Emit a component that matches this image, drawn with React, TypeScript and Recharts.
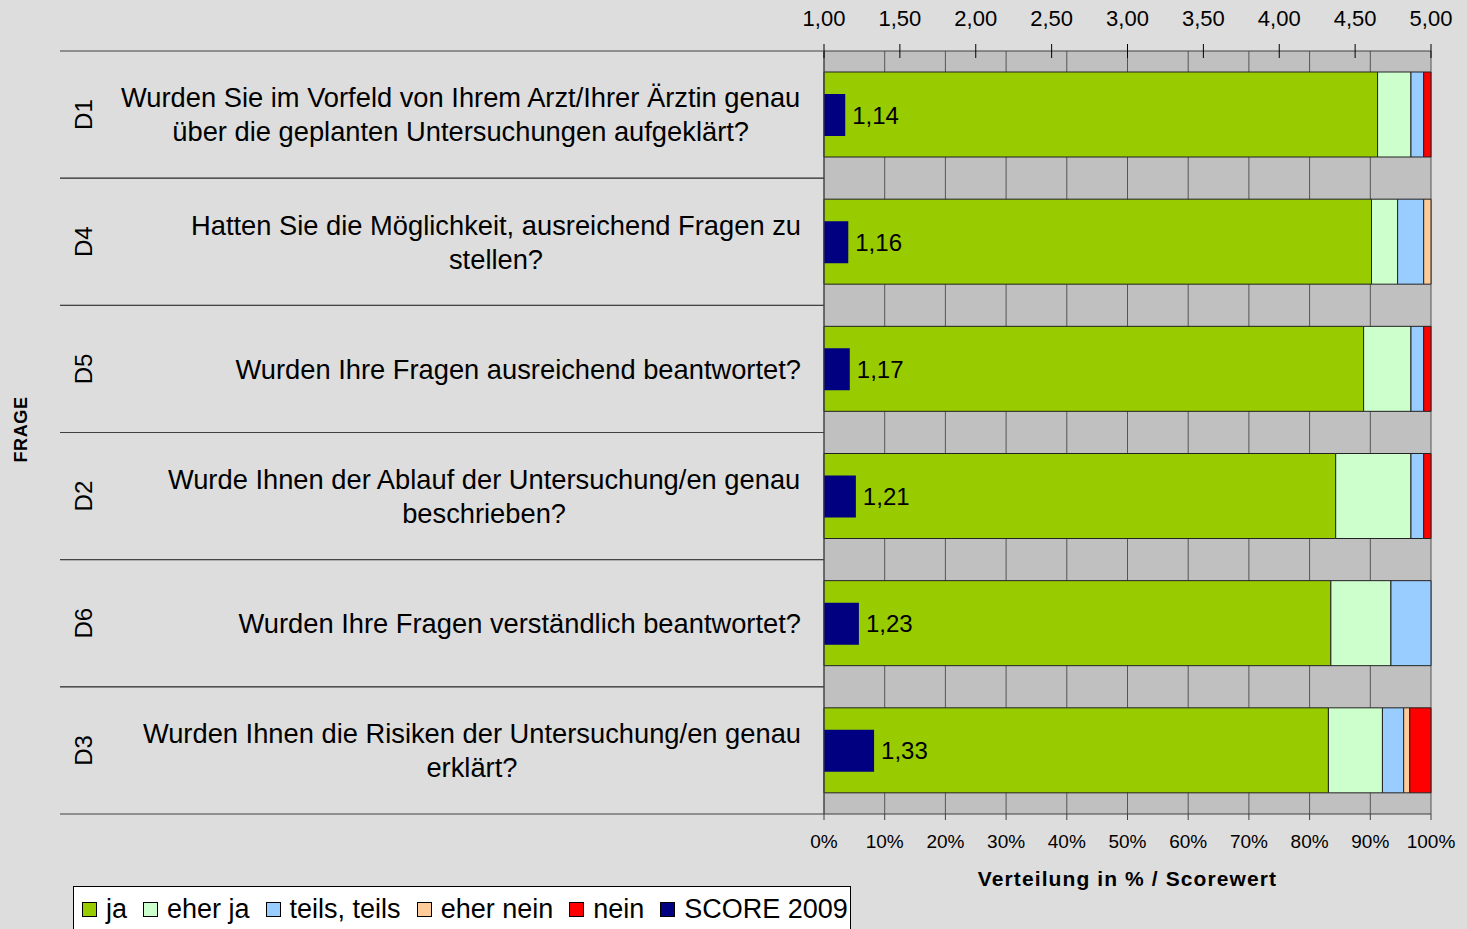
import React from "react";
import { BarChart, Bar, XAxis, YAxis, CartesianGrid, Legend, LabelList } from "recharts";

const ids = ["D1", "D4", "D5", "D2", "D6", "D3"];
const questions = [
    ["Wurden Sie im Vorfeld von Ihrem Arzt/Ihrer Ärztin genau", "über die geplanten Untersuchungen aufgeklärt?"],
    ["Hatten Sie die Möglichkeit, ausreichend Fragen zu", "stellen?"],
    ["Wurden Ihre Fragen ausreichend beantwortet?"],
    ["Wurde Ihnen der Ablauf der Untersuchung/en genau", "beschrieben?"],
    ["Wurden Ihre Fragen verständlich beantwortet?"],
    ["Wurden Ihnen die Risiken der Untersuchung/en genau", "erklärt?"],
];
const ja = [91.2, 90.2, 88.9, 84.3, 83.5, 83.1];
const eherJa = [5.5, 4.3, 7.8, 12.4, 9.9, 8.9];
const teils = [2.1, 4.3, 2.1, 2.1, 6.6, 3.5];
const eherNein = [0, 1.2, 0, 0, 0, 1.0];
const nein = [1.2, 0, 1.2, 1.2, 0, 3.5];
const score = [1.14, 1.16, 1.17, 1.21, 1.23, 1.33];
const pctTicks = [0, 10, 20, 30, 40, 50, 60, 70, 80, 90, 100];
const scoreTicks = [1, 1.5, 2, 2.5, 3, 3.5, 4, 4.5, 5];
const legendOrder = ["ja", "eher ja", "teils, teils", "eher nein", "nein", "SCORE 2009"];

const data = ids.map((id, i) => ({
    id,
    ja: ja[i],
    eherJa: eherJa[i],
    teils: teils[i],
    eherNein: eherNein[i],
    nein: nein[i],
    score: score[i],
}));

const W = 1467;
const H = 929;
const TOP = 51;
const BOTTOM = 115;
const LEFT = 824;
const RIGHT = 36;
const BAND = (H - TOP - BOTTOM) / ids.length;
const FONT = "'Liberation Sans', Arial, sans-serif";
const LINE = "#404040";
const QFONT = 27.3;

const fmtScore = (v: number) => v.toFixed(2).replace(".", ",");

let ctx: CanvasRenderingContext2D | null = null;
const measure = (s: string, size: number) => {
    if (!ctx) ctx = document.createElement("canvas").getContext("2d");
    if (!ctx) return s.length * size * 0.5;
    ctx.font = `${size}px 'Liberation Sans'`;
    return ctx.measureText(s).width;
};

const QuestionTick = (props: any) => {
    const { y, payload } = props;
    const i = ids.indexOf(payload.value);
    const lines = questions[i] || [];
    const lh = 34;
    const w = Math.max(...lines.map((l) => measure(l, QFONT)));
    const cx = 801 - w / 2;
    const y0 = y - ((lines.length - 1) * lh) / 2;
    return (
        <g>
            <line x1={60} x2={LEFT} y1={y - BAND / 2} y2={y - BAND / 2} stroke={LINE} />
            <line x1={60} x2={LEFT} y1={y + BAND / 2} y2={y + BAND / 2} stroke={LINE} />
            <text transform={`translate(92,${y}) rotate(-90)`} textAnchor="middle" fontSize={24} fill="#000">
                {payload.value}
            </text>
            {lines.map((l, k) => (
                <text key={k} x={cx} y={y0 + k * lh} dy="0.36em" textAnchor="middle" fontSize={QFONT} fill="#000">
                    {l}
                </text>
            ))}
        </g>
    );
};

const ScoreTick = (props: any) => {
    const { x, y, payload } = props;
    return (
        <g>
            <line x1={x} x2={x} y1={y + 18} y2={y + 32} stroke="#000" />
            <text x={x} y={y} textAnchor="middle" fontSize={22} fill="#000">
                {fmtScore(payload.value)}
            </text>
        </g>
    );
};

const LegendBox = (props: any) => {
    const items = [...(props.payload || [])].sort(
        (a: any, b: any) => legendOrder.indexOf(a.value) - legendOrder.indexOf(b.value)
    );
    return (
        <div
            style={{
                display: "inline-flex",
                alignItems: "center",
                height: 46,
                border: "1px solid #000",
                background: "#fff",
                padding: "0 2px 0 8px",
                fontSize: 27,
                fontFamily: FONT,
                whiteSpace: "nowrap",
                boxSizing: "border-box",
            }}
        >
            {items.map((it: any, k: number) => (
                <span key={k} style={{ display: "inline-flex", alignItems: "center", marginRight: k < items.length - 1 ? 16 : 0 }}>
                    <span
                        style={{
                            display: "inline-block",
                            width: 13,
                            height: 13,
                            border: "1px solid #000",
                            background: it.color,
                            marginRight: 9,
                        }}
                    />
                    <span style={{ color: "#000" }}>{it.value}</span>
                </span>
            ))}
        </div>
    );
};

const App: React.FC = () => {
    return (
        <div
            style={{
                position: "absolute",
                left: 0,
                top: 0,
                width: W,
                height: H,
                overflow: "hidden",
                background: "#dddddd",
                fontFamily: FONT,
            }}
        >
            <BarChart
                width={W}
                height={H}
                data={data}
                layout="vertical"
                margin={{ top: 0, right: RIGHT, bottom: 0, left: 0 }}
                style={{ fontFamily: FONT }}
            >
                <CartesianGrid
                    horizontal={false}
                    xAxisId="pct"
                    yAxisId="main"
                    fill="#c0c0c0"
                    fillOpacity={1}
                    stroke="#555"
                />
                <XAxis
                    xAxisId="pct"
                    type="number"
                    domain={[0, 100]}
                    ticks={pctTicks}
                    tickFormatter={(v) => `${v}%`}
                    orientation="bottom"
                    height={BOTTOM}
                    stroke={LINE}
                    tickSize={6}
                    tickMargin={15}
                    tick={{ fontSize: 19, fill: "#000" }}
                    label={() => (
                        <text
                            x={LEFT + (W - LEFT - RIGHT) / 2}
                            y={886}
                            textAnchor="middle"
                            fontSize={21}
                            fontWeight="bold"
                            letterSpacing={1.1}
                            fill="#000"
                        >
                            Verteilung in % / Scorewert
                        </text>
                    )}
                />
                <XAxis
                    xAxisId="score"
                    type="number"
                    domain={[1, 5]}
                    ticks={scoreTicks}
                    orientation="top"
                    height={TOP}
                    stroke={LINE}
                    tickLine={false}
                    tickSize={7}
                    tickMargin={18}
                    tick={<ScoreTick />}
                />
                <YAxis
                    yAxisId="main"
                    type="category"
                    dataKey="id"
                    width={LEFT}
                    stroke={LINE}
                    tickLine={false}
                    tick={<QuestionTick />}
                    label={(p: any) => {
                        const vb = p && p.viewBox;
                        const cy = vb && vb.height ? vb.y + vb.height / 2 : (TOP + H - BOTTOM) / 2;
                        return (
                            <text
                                transform={`translate(27,${cy - 3}) rotate(-90)`}
                                textAnchor="middle"
                                fontSize={18}
                                fontWeight="bold"
                                letterSpacing={0.6}
                                fill="#000"
                            >
                                FRAGE
                            </text>
                        );
                    }}
                />
                <YAxis yAxisId="s" type="category" dataKey="id" hide />
                <Bar dataKey="ja" name="ja" stackId="a" xAxisId="pct" yAxisId="main" barSize={85} fill="#99cc00" stroke="#222" isAnimationActive={false} />
                <Bar dataKey="eherJa" name="eher ja" stackId="a" xAxisId="pct" yAxisId="main" barSize={85} fill="#ccffcc" stroke="#222" isAnimationActive={false} />
                <Bar dataKey="teils" name="teils, teils" stackId="a" xAxisId="pct" yAxisId="main" barSize={85} fill="#99ccff" stroke="#222" isAnimationActive={false} />
                <Bar dataKey="eherNein" name="eher nein" stackId="a" xAxisId="pct" yAxisId="main" barSize={85} fill="#ffcc99" stroke="#222" isAnimationActive={false} />
                <Bar dataKey="nein" name="nein" stackId="a" xAxisId="pct" yAxisId="main" barSize={85} fill="#ff0000" stroke="#222" isAnimationActive={false} />
                <Bar dataKey="score" name="SCORE 2009" xAxisId="score" yAxisId="s" barSize={42} fill="#000080" isAnimationActive={false}>
                    <LabelList dataKey="score" position="right" offset={7} formatter={(v: any) => fmtScore(Number(v))} style={{ fontSize: 24, fill: "#000" }} />
                </Bar>
                <Legend
                    layout="vertical"
                    align="center"
                    verticalAlign="middle"
                    wrapperStyle={{ position: "absolute", left: 73, top: 886, width: "auto", height: "auto" }}
                    content={<LegendBox />}
                />
            </BarChart>
        </div>
    );
};

export default App;
